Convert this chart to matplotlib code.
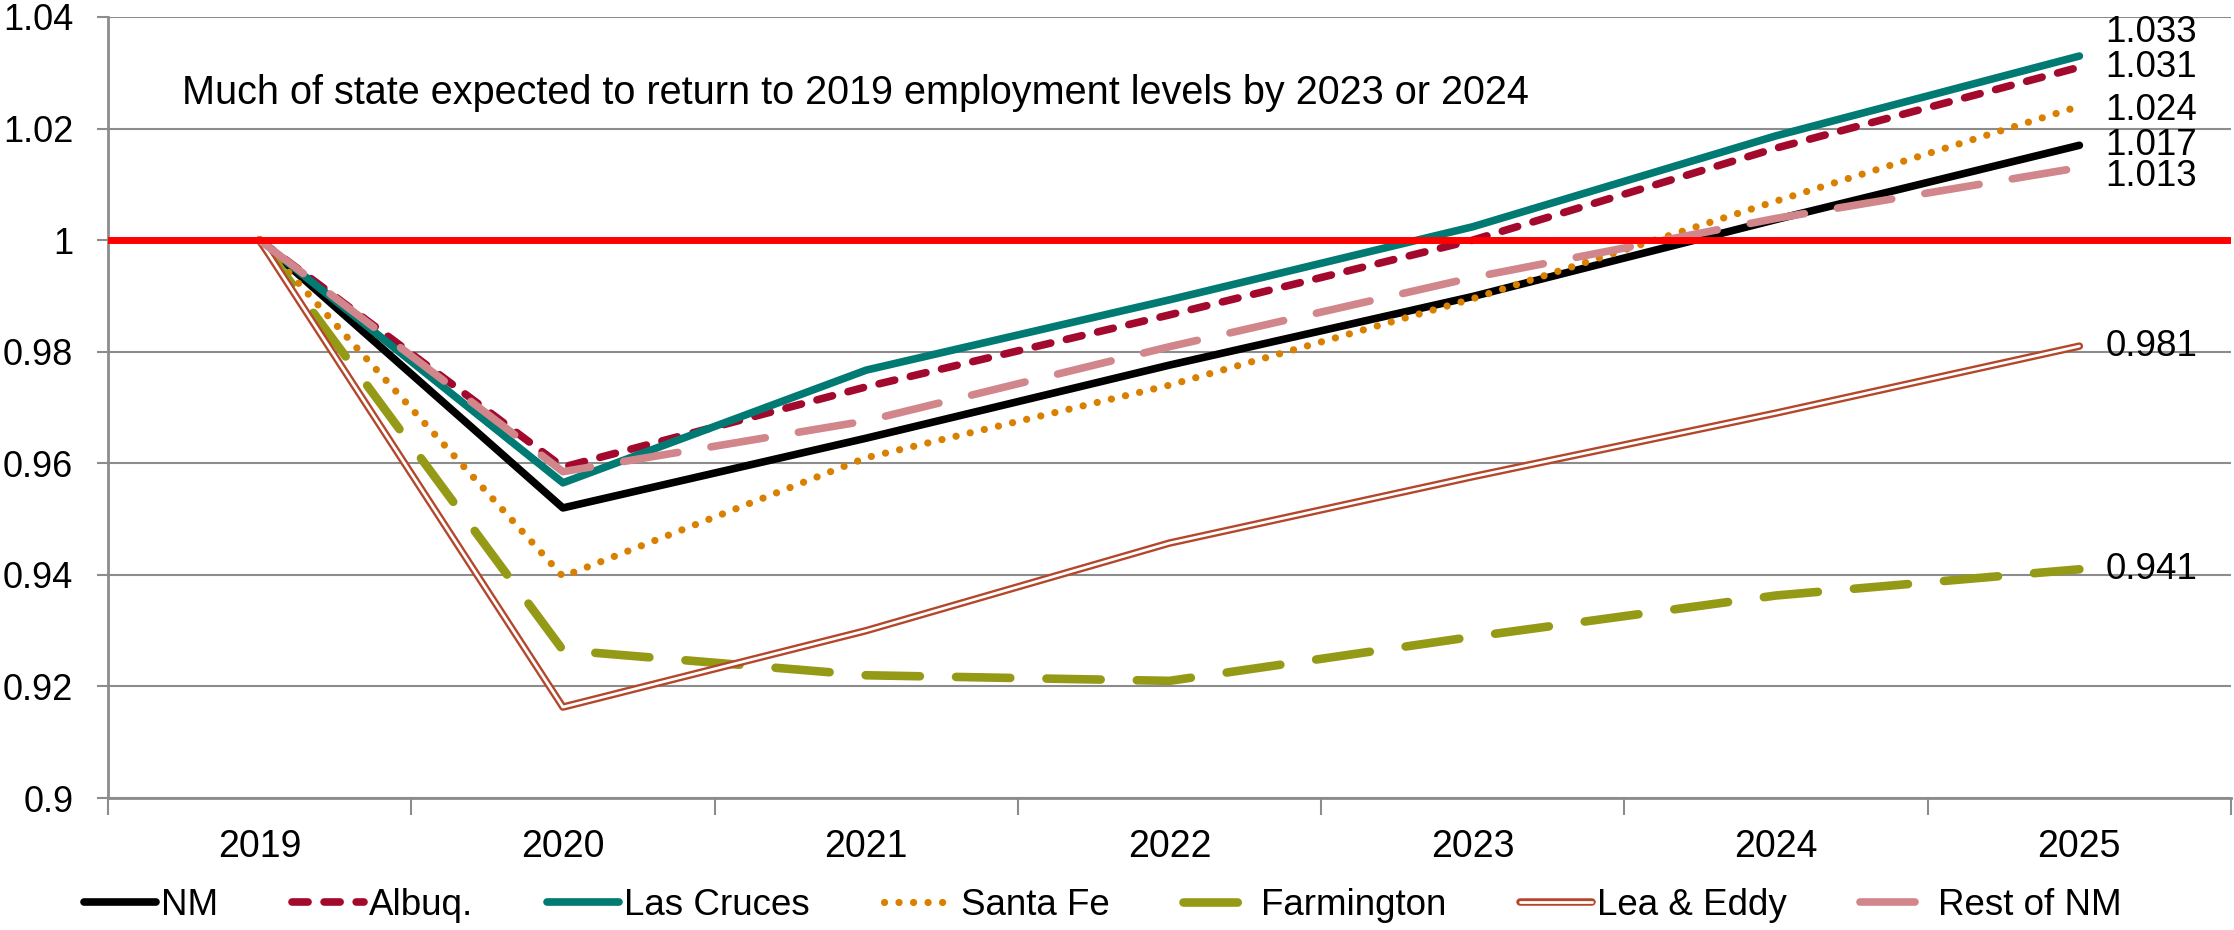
import matplotlib
matplotlib.use('Agg')
import matplotlib.pyplot as plt

plt.rcParams['font.family'] = ['Liberation Sans', 'DejaVu Sans']

# Data
years = ['2019', '2020', '2021', '2022', '2023', '2024', '2025']
nm = [1.0, 0.952, 0.9645, 0.9776, 0.9899, 1.0037, 1.017]
albuq = [1.0, 0.9593, 0.9737, 0.9866, 1.0, 1.0165, 1.031]
las_cruces = [1.0, 0.9565, 0.9767, 0.9893, 1.0024, 1.0187, 1.033]
santa_fe = [1.0, 0.9397, 0.961, 0.974, 0.9895, 1.007, 1.024]
farmington = [1.0, 0.9265, 0.922, 0.921, 0.9289, 0.9363, 0.941]
lea_eddy = [1.0, 0.9163, 0.930, 0.9457, 0.9576, 0.969, 0.981]
rest_nm = [1.0, 0.9585, 0.9676, 0.9809, 0.9933, 1.0039, 1.013]
baseline = 1.0

FS = 26
GRID = '#8c8c8c'

fig = plt.figure(figsize=(22.34, 9.3), dpi=100)
ax = fig.add_axes([108/2234, 1 - 798/930, (2231 - 108)/2234, (798 - 17)/930])
x = list(range(len(years)))

l_nm, = ax.plot(x, nm, color='black', lw=5.5, solid_capstyle='round', label='NM')
l_alb, = ax.plot(x, albuq, color='#a3082d', lw=5.5, dashes=(2.1, 2.1), dash_capstyle='round', label='Albuq.')
l_lc, = ax.plot(x, las_cruces, color='#007a72', lw=5.5, solid_capstyle='round', label='Las Cruces')
l_sf, = ax.plot(x, santa_fe, color='#d98000', lw=5.2, dashes=(0.01, 2.0), dash_capstyle='round', label='Santa Fe')
l_fa, = ax.plot(x, farmington, color='#959a16', lw=6.2, dashes=(6.3, 4.2), dash_capstyle='round', label='Farmington')
l_le1, = ax.plot(x, lea_eddy, color='#b4472b', lw=5.4, solid_capstyle='round')
l_le2, = ax.plot(x, lea_eddy, color='white', lw=2.0, solid_capstyle='round')
l_re, = ax.plot(x, rest_nm, color='#d0868a', lw=5.5, dashes=(7.2, 4.4), dash_capstyle='round', label='Rest of NM')
ax.axhline(baseline, color='#ff0000', lw=5, zorder=5)

# end value labels, a few nudged apart like the original
nudge = {'Las Cruces': 24, 'Rest of NM': -9, 'Santa Fe': -4}
for name, vals in [('NM', nm), ('Albuq.', albuq), ('Las Cruces', las_cruces), ('Santa Fe', santa_fe),
                   ('Farmington', farmington), ('Lea & Eddy', lea_eddy), ('Rest of NM', rest_nm)]:
    ax.annotate(f'{vals[-1]:.3f}', (x[-1], vals[-1]), xytext=(26, nudge.get(name, 0)),
                textcoords='offset pixels', ha='left', va='center', fontsize=FS + 0.5, zorder=6)

fig.text(182/2234, 1 - 93/930, 'Much of state expected to return to 2019 employment levels by 2023 or 2024',
         fontsize=28.5, va='center', ha='left')

ax.set_xlim(-0.5, 6.5)
ax.set_ylim(0.9, 1.04)
ax.set_yticks([0.9, 0.92, 0.94, 0.96, 0.98, 1.0, 1.02, 1.04])
ax.set_yticklabels(['0.9', '0.92', '0.94', '0.96', '0.98', '1', '1.02', '1.04'])
ax.set_xticks(x)
ax.set_xticklabels(years)
ax.set_xticks([i - 0.5 for i in range(len(years) + 1)], minor=True)
ax.tick_params(axis='x', which='major', length=0, pad=22, labelsize=27)
ax.tick_params(axis='x', which='minor', length=12, width=1.5, color=GRID)
ax.tick_params(axis='y', length=8, width=1.5, color=GRID, pad=17, labelsize=FS)
ax.grid(axis='y', color=GRID, lw=1.5)
ax.set_axisbelow(True)
for s in ['top', 'right']:
    ax.spines[s].set_visible(False)
for s in ['left', 'bottom']:
    ax.spines[s].set_color(GRID)
    ax.spines[s].set_linewidth(2)

handles = [l_nm, l_alb, l_lc, l_sf, l_fa, (l_le1, l_le2), l_re]
labels = ['NM', 'Albuq.', 'Las Cruces', 'Santa Fe', 'Farmington', 'Lea & Eddy', 'Rest of NM']
fig.legend(handles, labels, loc='center left', bbox_to_anchor=(84/2234, 1 - 905/930), ncol=7,
           frameon=False, fontsize=26.5, handlelength=1.95, handletextpad=0.15, columnspacing=2.0,
           borderpad=0, borderaxespad=0)

fig.savefig('out.png', dpi=100)
